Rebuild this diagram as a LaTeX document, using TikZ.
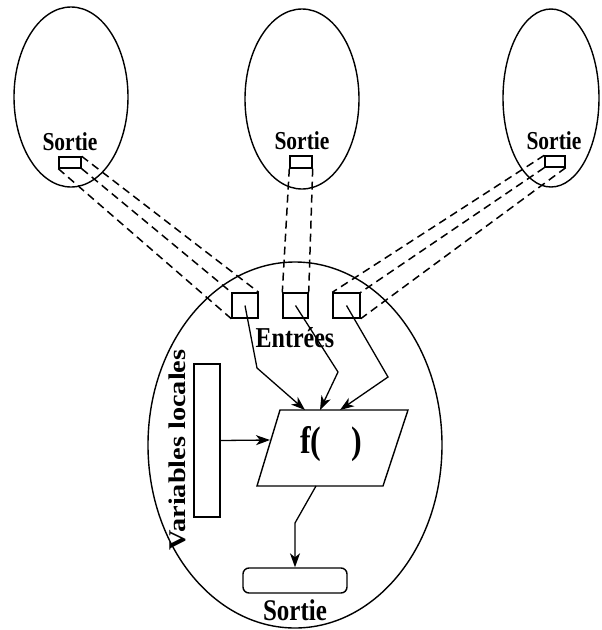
\documentclass[tikz,border=0pt]{standalone}
\usepackage{fontspec}
\setmainfont{Liberation Serif}
\usepackage{graphicx}
\usetikzlibrary{shapes.geometric,arrows.meta}
\newcommand\mytxt[2]{\fontsize{#1}{#1}\selectfont\scalebox{1}[1.2]{#2}}
\begin{document}
\begin{tikzpicture}[x=1pt,y=-1pt,
  line width=1.4pt,
  oval/.style={draw, ellipse, line width=1.4pt, inner sep=0pt},
  portbox/.style={draw, rectangle, inner sep=0pt, line width=1.4pt},
  lbl/.style={inner sep=0pt, font=\bfseries},
  link/.style={dash pattern=on 8pt off 5pt, line width=1.5pt},
  flow/.style={-{Stealth[length=14pt,width=10pt,inset=4pt]}, line width=1.3pt}]
\useasboundingbox (0,0) rectangle (602,630);

% ovals
\node[oval, minimum width=114pt, minimum height=180pt] (oL) at (71,97) {};
\node[oval, minimum width=114pt, minimum height=180pt] (oM) at (302,99) {};
\node[oval, minimum width=96pt, minimum height=178pt] (oR) at (551,98) {};
\node[oval, minimum width=294pt, minimum height=366pt] (oB) at (295,445) {};

% top labels and output boxes
\node[lbl] (tL) at (70,141.5) {\mytxt{21.5}{Sortie}};
\node[lbl] (tM) at (302,140.5) {\mytxt{21.5}{Sortie}};
\node[lbl] (tR) at (554,140.5) {\mytxt{21.5}{Sortie}};
\node[portbox, minimum width=22pt, minimum height=11pt] (sL) at (70,162.5) {};
\node[portbox, minimum width=22pt, minimum height=12pt] (sM) at (301,162) {};
\node[portbox, minimum width=20pt, minimum height=11pt] (sR) at (555,161.5) {};

% input boxes
\node[portbox, minimum width=26pt, minimum height=25pt] (eL) at (245,305.5) {};
\node[portbox, minimum width=25pt, minimum height=25pt] (eM) at (295.5,305.5) {};
\node[portbox, minimum width=27pt, minimum height=25pt] (eR) at (346.5,305.5) {};
\node[lbl] (tE) at (295,338) {\mytxt{24}{Entrées}};

% dashed links
\draw[link] (sL.north east) -- (eL.north east);
\draw[link] (sL.south east) -- (eL.north west);
\draw[link] (sL.south west) -- (eL.south west);
\draw[link] (sM.south west) -- (eM.north west);
\draw[link] (sM.south east) -- (eM.north east);
\draw[link] (sR.north west) -- (eR.north west);
\draw[link] (sR.south west) -- (eR.north east);
\draw[link] (sR.south east) -- (eR.south east);

% function parallelogram
\coordinate (pTL) at (280,410);
\coordinate (pTR) at (408,410);
\coordinate (pBR) at (383,486);
\coordinate (pBL) at (257,486);
\draw (pTL) -- (pTR) -- (pBR) -- (pBL) -- cycle;
\node[lbl] (fT) at (331,444) {\mytxt{32}{f(\hspace{30pt})}};

% local variables
\node[portbox, minimum width=26pt, minimum height=153pt] (vR) at (207,440.5) {};
\node[lbl, rotate=90] (vT) at (177,450) {\fontsize{24}{24}\selectfont\scalebox{1.18}[1]{Variables locales}};

% output
\node[portbox, rounded corners=6pt, minimum width=104pt, minimum height=25pt] (oS) at (295,580.5) {};
\node[lbl] (tS) at (295,610) {\mytxt{25}{Sortie}};

% arrows
\coordinate (a1) at (305,410);
\coordinate (a2) at (320,410);
\coordinate (a3) at (340,410);
\coordinate (a4) at (270,440);
\coordinate (w1) at (257,368);
\coordinate (w2) at (338,372);
\coordinate (w3) at (388,377);
\coordinate (b0) at (316,486);
\coordinate (w5) at (295,523);
\draw[flow] (eL.center) -- (w1) -- (a1);
\draw[flow] (eM.center) -- (w2) -- (a2);
\draw[flow] (eR.center) -- (w3) -- (a3);
\draw[flow] (vR.east) -- (a4);
\draw[flow] (b0) -- (w5) -- (oS.north);
\end{tikzpicture}
\end{document}
